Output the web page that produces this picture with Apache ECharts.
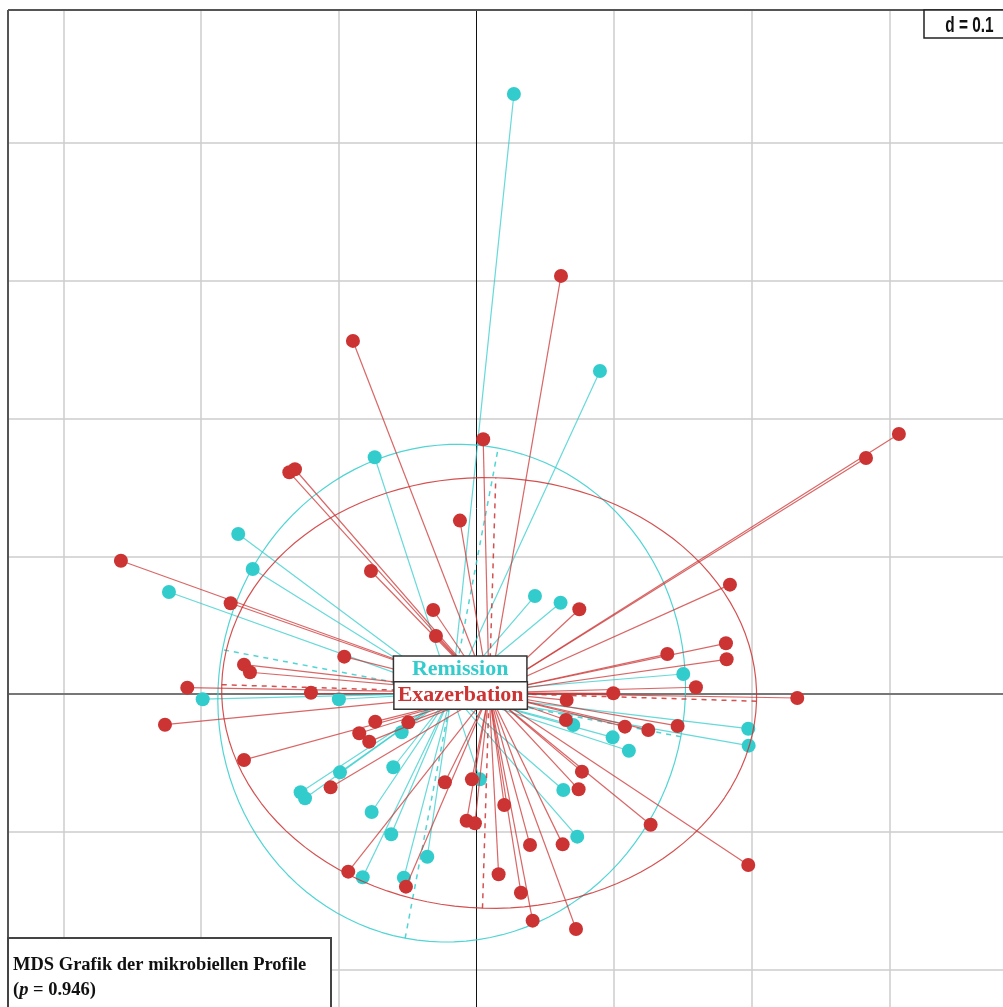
<!DOCTYPE html>
<html>
<head>
<meta charset="utf-8">
<script src="https://cdn.jsdelivr.net/npm/echarts@6/dist/echarts.min.js"></script>
<style>
  html, body { margin: 0; padding: 0; background: #fff; }
  #chart { width: 1003px; height: 1007px; }
</style>
</head>
<body>
<div id="chart"></div>
<script>
// MDS coordinates (axis 1 / axis 2)
var remX = [0.0272, 0.0897, -0.0739, -0.1730, -0.1625, -0.2233, -0.1988, -0.0999, 0.0425, 0.0611,
            0.1502, 0.0703, 0.0989, 0.1107, 0.1974, 0.1977, 0.0631, 0.0732, 0.0025, -0.0543,
            -0.0604, -0.0991, -0.1277, -0.1245, -0.0761, -0.0619, -0.0357, -0.0826, -0.0527];
var remY = [0.4357, 0.2346, 0.1719, 0.1162, 0.0908, 0.0741, -0.0038, -0.0038, 0.0712, 0.0663,
            0.0145, -0.0225, -0.0315, -0.0412, -0.0252, -0.0375, -0.0697, -0.1036, -0.0620, -0.0278,
            -0.0532, -0.0569, -0.0714, -0.0757, -0.0857, -0.1019, -0.1182, -0.1331, -0.1334];

var exaX = [0.0614, -0.0897, 0.3068, 0.2829, 0.0049, -0.0120, -0.1359, -0.1318, -0.0766, -0.2582,
            -0.1785, -0.0314, -0.0294, -0.0960, -0.1688, -0.1645, -0.2100, -0.1202, -0.2262, -0.1688,
            -0.0735, -0.0495, -0.0851, -0.0779, -0.1059, -0.0229, -0.0033, -0.0071, -0.0011, 0.0202,
            -0.0931, -0.0512, 0.0161, 0.0389, 0.0626, 0.0323, 0.0408, 0.0723, 0.0742, 0.0766,
            0.1265, 0.1974, 0.0655, 0.0650, 0.0994, 0.1078, 0.1248, 0.1461, 0.1594, 0.1386,
            0.0747, 0.1812, 0.1817, 0.1841, 0.2330];
var exaY = [0.3036, 0.2564, 0.1888, 0.1714, 0.1850, 0.1259, 0.1610, 0.1632, 0.0893, 0.0968,
            0.0659, 0.0610, 0.0421, 0.0271, 0.0213, 0.0158, 0.0046, 0.0009, -0.0223, -0.0479,
            -0.0201, -0.0206, -0.0285, -0.0346, -0.0678, -0.0641, -0.0620, -0.0920, -0.0939, -0.0806,
            -0.1290, -0.1399, -0.1309, -0.1097, -0.1092, -0.1443, -0.1646, -0.1707, -0.0692, -0.0564,
            -0.0949, -0.1242, -0.0044, -0.0189, 0.0005, -0.0237, -0.0261, -0.0232, 0.0049, 0.0290,
            0.0615, 0.0368, 0.0252, 0.0794, -0.0029];

var groups = ['Remission', 'Exazerbation'];
var gridX = [-0.3, -0.2, -0.1, 0.1, 0.2, 0.3];
var gridY = [-0.2, -0.1, 0.1, 0.2, 0.3, 0.4];

var cyan = '#33cccc', red = '#cc3333';
var xMin = -0.3402, xMax = 0.3824, yMin = -0.2273, yMax = 0.4967;

// centroid + covariance ellipse (cellipse = 1.5) like ade4 s.class
function classStats(xs, ys) {
    var n = xs.length, cx = 0, cy = 0, vx = 0, vy = 0, cv = 0;
    for (var i = 0; i < n; i++) { cx += xs[i]; cy += ys[i]; }
    cx /= n; cy /= n;
    for (var i = 0; i < n; i++) {
        vx += (xs[i] - cx) * (xs[i] - cx);
        vy += (ys[i] - cy) * (ys[i] - cy);
        cv += (xs[i] - cx) * (ys[i] - cy);
    }
    vx /= n; vy /= n; cv /= n;
    var m = (vx + vy) / 2, d = Math.sqrt((vx - vy) * (vx - vy) / 4 + cv * cv);
    var th = 0.5 * Math.atan2(2 * cv, vx - vy);
    var a = 1.5 * Math.sqrt(m + d), b = 1.5 * Math.sqrt(Math.max(m - d, 0));
    var ux = Math.cos(th), uy = Math.sin(th);
    var ell = [];
    for (var k = 0; k <= 120; k++) {
        var t = k / 120 * 2 * Math.PI;
        ell.push([cx + a * Math.cos(t) * ux - b * Math.sin(t) * uy,
                  cy + a * Math.cos(t) * uy + b * Math.sin(t) * ux]);
    }
    var axes = [
        {coords: [[cx - a * ux, cy - a * uy], [cx + a * ux, cy + a * uy]]},
        {coords: [[cx + b * uy, cy - b * ux], [cx - b * uy, cy + b * ux]]}
    ];
    var stars = [], pts = [];
    for (var i = 0; i < n; i++) {
        stars.push({coords: [[xs[i], ys[i]], [cx, cy]]});
        pts.push([xs[i], ys[i]]);
    }
    return {c: [cx, cy], ell: ell, axes: axes, stars: stars, pts: pts};
}

var rem = classStats(remX, remY);
var exa = classStats(exaX, exaY);

var gridLines = [];
gridX.forEach(function (v) { gridLines.push({coords: [[v, yMin], [v, yMax]]}); });
gridY.forEach(function (v) { gridLines.push({coords: [[xMin, v], [xMax, v]]}); });

function groupSeries(s, col, z) {
    return [
        {type: 'lines', coordinateSystem: 'cartesian2d', silent: true, z: z,
         data: s.stars, lineStyle: {color: col, width: 1.2, opacity: 0.75}},
        {type: 'line', data: s.ell, showSymbol: false, silent: true, z: z,
         lineStyle: {color: col, width: 1.2, opacity: 0.85}},
        {type: 'lines', coordinateSystem: 'cartesian2d', silent: true, z: z,
         data: s.axes, lineStyle: {color: col, width: 1.5, type: [5, 5], opacity: 0.85}},
        {type: 'scatter', data: s.pts, symbolSize: 14, z: z + 1,
         itemStyle: {color: col, opacity: 1}}
    ];
}

var labelBase = {
    show: true, position: 'inside', fontFamily: 'Liberation Serif', fontWeight: 'bold',
    fontSize: 22, lineHeight: 24, width: 128, align: 'center', verticalAlign: 'middle',
    backgroundColor: '#fff', borderColor: '#333', borderWidth: 1.5, padding: [1, 2, 1, 2]
};

var series = [
    {type: 'lines', coordinateSystem: 'cartesian2d', silent: true, z: 1,
     data: gridLines, lineStyle: {color: '#cccccc', width: 1.5, opacity: 1}},
    {type: 'lines', coordinateSystem: 'cartesian2d', silent: true, z: 2,
     data: [{coords: [[xMin, 0], [xMax, 0]]}], lineStyle: {color: '#777', width: 2, opacity: 1}},
    {type: 'lines', coordinateSystem: 'cartesian2d', silent: true, z: 2,
     data: [{coords: [[0, yMin], [0, yMax]]}], lineStyle: {color: '#111', width: 1, opacity: 1}},
    // plot frame (top and left; right/bottom fall outside the picture)
    {type: 'lines', coordinateSystem: 'cartesian2d', silent: true, z: 2,
     data: [{coords: [[xMin, yMax], [xMax, yMax]]}, {coords: [[xMin, yMax], [xMin, yMin]]}],
     lineStyle: {color: '#555', width: 2, opacity: 1}}
].concat(groupSeries(rem, cyan, 3), groupSeries(exa, red, 5));

series.push({
    type: 'scatter', symbolSize: 0, z: 10, silent: true, itemStyle: {opacity: 1},
    data: [
        {value: rem.c, label: Object.assign({}, labelBase, {formatter: groups[0], color: cyan, offset: [8.5, -23.5]})},
        {value: exa.c, label: Object.assign({}, labelBase, {formatter: groups[1], color: red, offset: [-28.5, 2.5]})}
    ]
});

var chart = echarts.init(document.getElementById('chart'));
chart.setOption({
    animation: false,
    backgroundColor: '#fff',
    grid: {left: 8, top: 10, width: 995, height: 997, show: false},
    xAxis: {type: 'value', min: xMin, max: xMax, show: false},
    yAxis: {type: 'value', min: yMin, max: yMax, show: false},
    series: series,
    graphic: [
        {type: 'rect', z: 20, shape: {x: 924, y: 10, width: 90, height: 28},
         style: {fill: '#fff', stroke: '#222', lineWidth: 1.5}},
        {type: 'text', z: 21, x: 969.5, y: 26, scaleX: 0.7, originX: 0,
         style: {text: 'd = 0.1', fontFamily: 'Liberation Sans', fontWeight: 'bold', fontSize: 22,
                 fill: '#111', align: 'center', verticalAlign: 'middle'}},
        {type: 'rect', z: 20, shape: {x: 8, y: 938, width: 323, height: 80},
         style: {fill: '#fff', stroke: '#444', lineWidth: 2}},
        {type: 'text', z: 21, x: 13, y: 965,
         style: {text: 'MDS Grafik der mikrobiellen Profile', fontFamily: 'Liberation Serif',
                 fontWeight: 'bold', fontSize: 18.5, fill: '#111', verticalAlign: 'middle'}},
        {type: 'text', z: 21, x: 13, y: 990,
         style: {text: '{a|(}{b|p}{a| = 0.946)}', fill: '#111', verticalAlign: 'middle',
                 rich: {
                     a: {fontFamily: 'Liberation Serif', fontWeight: 'bold', fontSize: 18.5, fill: '#111'},
                     b: {fontFamily: 'Liberation Serif', fontWeight: 'bold', fontStyle: 'italic', fontSize: 18.5, fill: '#111'}
                 }}}
    ]
});
</script>
</body>
</html>
